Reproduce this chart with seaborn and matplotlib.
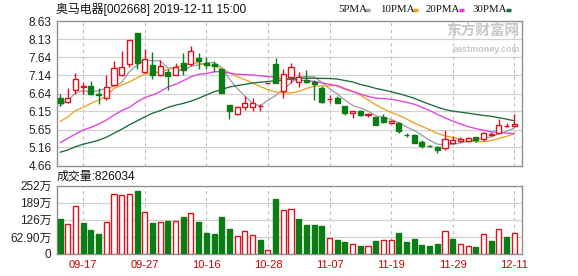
import numpy as np
import pandas as pd
import matplotlib
matplotlib.use("Agg")
import matplotlib.pyplot as plt
from matplotlib.lines import Line2D
import seaborn as sns

# ---------------- data ----------------
opens = [6.51, 6.41, 6.75, 6.83, 6.86, 6.64, 6.51, 6.87, 7.14, 7.45,
         8.30, 7.24, 7.42, 7.14, 7.24, 7.16, 7.48, 7.45, 7.61, 7.47,
         7.45, 7.32, 6.32, 6.08, 6.26, 6.28, 6.29, 6.93, 7.45, 6.71,
         7.08, 6.96, 7.01, 6.96, 6.78, 6.48, 6.52, 6.31, 6.10, 6.17,
         6.05, 6.00, 5.99, 5.82, 5.82, 5.51, 5.49, 5.32, 5.20, 5.16,
         5.14, 5.29, 5.33, 5.34, 5.44, 5.39, 5.49, 5.56, 5.75, 5.75]
highs = [6.62, 6.78, 7.21, 6.96, 6.98, 6.78, 7.14, 7.54, 7.81, 8.12,
         8.30, 7.85, 7.77, 7.57, 7.30, 7.48, 7.74, 7.94, 7.74, 7.63,
         7.54, 7.33, 6.32, 6.30, 6.57, 6.51, 6.35, 6.94, 7.62, 7.30,
         7.48, 7.24, 7.28, 7.01, 6.84, 6.60, 6.57, 6.31, 6.17, 6.20,
         6.11, 6.00, 6.08, 5.92, 5.87, 5.56, 5.52, 5.36, 5.24, 5.20,
         5.64, 5.47, 5.44, 5.45, 5.46, 5.59, 5.58, 5.95, 5.82, 6.08]
lows = [6.30, 6.39, 6.64, 6.62, 6.59, 6.35, 6.46, 6.84, 7.12, 7.37,
        7.30, 7.19, 7.03, 7.12, 6.75, 7.14, 7.14, 7.39, 7.30, 7.30,
        7.24, 6.66, 5.93, 6.05, 6.19, 6.17, 6.17, 6.93, 6.92, 6.51,
        6.92, 6.82, 6.92, 6.46, 6.37, 6.39, 6.39, 6.05, 5.97, 6.02,
        5.99, 5.77, 5.84, 5.80, 5.55, 5.44, 5.28, 5.14, 5.17, 5.02,
        5.09, 5.28, 5.31, 5.31, 5.31, 5.34, 5.47, 5.55, 5.71, 5.71]
closes = [6.39, 6.53, 7.03, 6.84, 6.62, 6.59, 6.82, 7.33, 7.36, 8.10,
          7.48, 7.60, 7.14, 7.39, 7.12, 7.37, 7.28, 7.80, 7.54, 7.41,
          7.40, 6.66, 6.17, 6.26, 6.37, 6.39, 6.31, 6.94, 6.92, 7.17,
          7.36, 7.10, 6.96, 6.90, 6.41, 6.50, 6.39, 6.10, 6.17, 6.06,
          6.07, 5.77, 5.86, 5.88, 5.62, 5.49, 5.29, 5.20, 5.19, 5.09,
          5.39, 5.36, 5.38, 5.42, 5.36, 5.56, 5.54, 5.79, 5.76, 5.81]
# volume in 万 shares
volumes = [128.9, 110.5, 176.7, 115.4, 88.4, 73.6, 119.0, 220.9, 217.2, 220.9,
           233.2, 154.6, 115.4, 117.8, 121.5, 121.5, 136.2, 149.7, 117.8, 78.5,
           73.6, 136.2, 92.0, 66.3, 84.7, 70.0, 51.5, 14.7, 202.5, 162.0,
           165.7, 128.9, 106.8, 106.8, 103.0, 57.7, 51.5, 44.2, 36.8, 29.5,
           29.5, 47.9, 51.5, 51.5, 77.3, 44.2, 55.2, 33.1, 29.5, 36.8,
           84.7, 55.2, 36.8, 29.5, 25.8, 73.6, 47.9, 92.0, 62.6, 77.3]
# moving-average values before enough visible history exists
ma5_head = [6.30, 6.45, 6.65, 6.72]
ma10_head = [5.87, 6.00, 6.17, 6.26, 6.37, 6.46, 6.57, 6.78, 6.87]
ma20_head = [5.29, 5.41, 5.53, 5.64, 5.71, 5.80, 5.91, 6.05, 6.17, 6.26,
             6.41, 6.53, 6.60, 6.69, 6.82, 6.89, 6.99, 7.10, 7.17]
ma30_head = [5.03, 5.09, 5.18, 5.25, 5.30, 5.36, 5.44, 5.55, 5.66, 5.78,
             5.89, 6.00, 6.10, 6.17, 6.26, 6.32, 6.37, 6.43, 6.51, 6.60,
             6.69, 6.75, 6.82, 6.86, 6.89, 6.93, 6.95, 6.97, 6.99]

tick_pos = [3, 11, 19, 27, 35, 43, 51, 59]
tick_labels = ["09-17", "09-27", "10-16", "10-28", "11-07", "11-19", "11-29", "12-11"]
price_ticks = [4.66, 5.16, 5.65, 6.15, 6.64, 7.14, 7.64, 8.13, 8.63]
vol_ticks = [0, 62.9, 125.8, 188.7, 251.6]
vol_tick_labels = ["0", "62.90万", "126万", "189万", "252万"]
title = "奥马电器[002668] 2019-12-11 15:00"
vol_title = "成交量:826034"
ma_names = ["5PMA", "10PMA", "20PMA", "30PMA"]

# ---------------- style ----------------
sns.set_theme(style="white")
plt.rcParams["font.family"] = ["Liberation Sans", "Noto Sans CJK SC", "DejaVu Sans"]

RED = "#e0101e"
GREEN = "#0a7d14"
MA_COLORS = ["#a0a0a0", "#f0a020", "#e040e0", "#1b6b3c"]
GRID = "#d2d2d2"
FRAME = "#909090"

W, H = 578, 276
fig = plt.figure(figsize=(W / 100, H / 100), dpi=100)
fig.patch.set_facecolor("white")
ax = fig.add_axes([57 / W, 1 - 165.7 / H, 465 / W, (165.7 - 21) / H])
ax2 = fig.add_axes([57 / W, 1 - 254 / H, 465 / W, (254 - 185.7) / H])

n = len(closes)
idx = np.arange(n)
o = np.array(opens); c = np.array(closes); hi = np.array(highs); lo = np.array(lows)
vol = np.array(volumes)

cs = pd.Series(c)
ma5 = np.r_[ma5_head, cs.rolling(5).mean().values[4:]]
ma10 = np.r_[ma10_head, cs.rolling(10).mean().values[9:]]
ma20 = np.r_[ma20_head, cs.rolling(20).mean().values[19:]]
ma30 = np.r_[ma30_head, cs.rolling(30).mean().values[29:]]

for a in (ax, ax2):
    a.set_xlim(-0.4, 60.0)
    for s in a.spines.values():
        s.set_color(FRAME)
        s.set_linewidth(1.0)
    for t in tick_pos:
        a.axvline(t, color="#bdbdbd", lw=0.8, ls=(0, (3, 3)), zorder=0)
    a.set_facecolor("white")

# ---- price panel ----
ax.set_ylim(4.66, 8.63)
ax.set_yticks(price_ticks)
ax.set_yticklabels([f"{v:.2f}" for v in price_ticks])
for v in price_ticks[1:-1]:
    ax.axhline(v, color=GRID, lw=0.9, zorder=0)
ax.set_xticks([])
ax.tick_params(axis="y", length=3, color=FRAME, labelsize=8.5, pad=1, labelcolor="#222222")

for line, col in zip([ma5, ma10, ma20, ma30], MA_COLORS):
    sns.lineplot(x=idx, y=line, color=col, lw=0.95, ax=ax, zorder=2)

up = c >= o
bw = 0.66
for i in range(n):
    col = RED if up[i] else GREEN
    ax.vlines(i, lo[i], hi[i], color=col, lw=1.0, zorder=3)
    h = c[i] - o[i]
    if abs(h) < 0.012:
        h = 0.012 if h >= 0 else -0.012
    ax.bar(i, h, bottom=o[i], width=bw,
           facecolor="white" if up[i] else GREEN,
           edgecolor=col, linewidth=1.0, zorder=4)

# watermark
ax.text(0.995, 0.93, "东方财富网", transform=ax.transAxes, ha="right", va="center",
        fontsize=10.5, color="#c8c8c8", family=["Noto Sans CJK SC"], fontweight="bold",
        zorder=1)
ax.text(0.995, 0.80, "eastmoney.com", transform=ax.transAxes, ha="right", va="center",
        fontsize=6.5, color="#c8c8c8", fontweight="bold", zorder=1)

# ---- volume panel ----
prev = np.r_[np.nan, c[:-1]]
vol_up = np.where(np.isnan(prev), c >= o, c >= prev)
ax2.set_ylim(0, 251.6)
ax2.set_yticks(vol_ticks)
ax2.set_yticklabels(vol_tick_labels)
for v in vol_ticks[1:-1]:
    ax2.axhline(v, color=GRID, lw=0.9, zorder=0)
ax2.bar(idx, vol, width=bw,
        color=["white" if u else GREEN for u in vol_up],
        edgecolor=[RED if u else GREEN for u in vol_up], linewidth=1.0, zorder=3)
ax2.set_xticks(tick_pos)
ax2.set_xticklabels(tick_labels)
ax2.tick_params(axis="x", length=0, labelsize=8, labelcolor="#cc0000", pad=4)
ax2.tick_params(axis="y", length=3, color=FRAME, labelsize=8.5, pad=1, labelcolor="#222222")

# ---- header texts ----
fig.text(56 / W, 1 - 9.5 / H, title, ha="left", va="center", fontsize=8.6, color="#111111")
fig.text(57 / W, 1 - 177 / H, vol_title, ha="left", va="center", fontsize=8.6, color="#111111")

leg_x = [338, 380, 426, 472]
dash_x = [365, 413, 459, 506]
for name, lx, dx, col in zip(ma_names, leg_x, dash_x, MA_COLORS):
    fig.text(lx / W, 1 - 9.5 / H, name, ha="left", va="center", fontsize=7.8,
             color="#111111", family=["Liberation Serif", "DejaVu Serif"])
    fig.add_artist(Line2D([dx / W, (dx + 5) / W], [1 - 9.5 / H, 1 - 9.5 / H],
                          transform=fig.transFigure, color=col, lw=2.5,
                          solid_capstyle="butt"))

fig.savefig("out.png", dpi=100, facecolor="white")
